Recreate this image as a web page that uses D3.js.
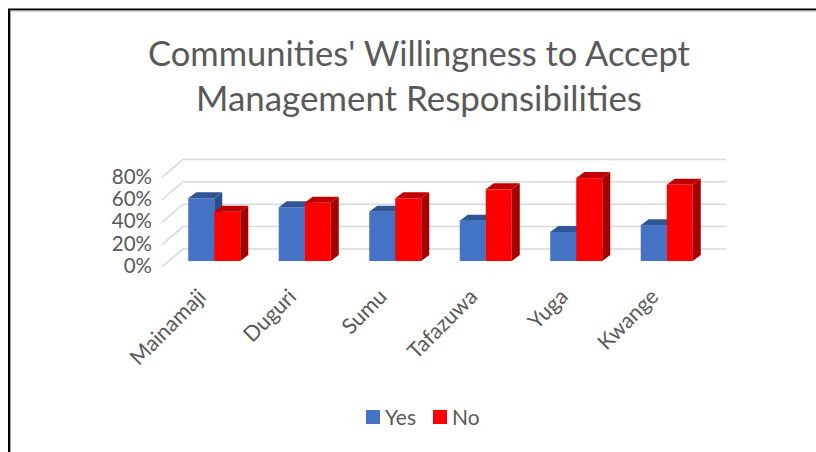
<!DOCTYPE html>
<html><head><meta charset="utf-8">
<script src="https://cdn.jsdelivr.net/npm/d3@7"></script>
<style>html,body{margin:0;padding:0;background:#fff;}svg{display:block;}</style>
</head><body>
<script>
const categories = ["Mainamaji","Duguri","Sumu","Tafazuwa","Yuga","Kwange"];
const seriesNames = ["Yes","No"];
const yesValues = [0.56,0.48,0.44,0.36,0.26,0.32];
const noValues = [0.44,0.52,0.56,0.64,0.74,0.68];
const yTicks = [0,0.2,0.4,0.6,0.8];
const titleLines = ["Communities' Willingness to Accept","Management Responsibilities"];

const W=816,H=452;
const font="Lato, 'Open Sans', sans-serif";
const textCol="#595959";
const svg=d3.select("body").append("svg").attr("width",W).attr("height",H);
svg.append("rect").attr("width",W).attr("height",H).attr("fill","#fff");

// border
svg.append("path").attr("d",`M9,452 V9.5 H816`).attr("fill","none").attr("stroke","#000").attr("stroke-width",2);
svg.append("path").attr("d",`M10.5,452 V11 H816`).attr("fill","none").attr("stroke","#aaa").attr("stroke-width",1);

// title
const titleTargets=[{cx:419,w:542,y:66},{cx:419,w:446,y:111}];
titleLines.forEach((t,i)=>{
  const el=svg.append("text").attr("x",titleTargets[i].cx).attr("y",titleTargets[i].y)
    .attr("text-anchor","middle").attr("font-family",font).attr("font-size",34)
    .attr("fill",textCol).text(t);
  const len=el.node().getComputedTextLength();
  el.attr("font-size",34*titleTargets[i].w/len);
});

// 3D geometry
const depth={dx:21,dy:-18};
const front={x0:162,x1:705};
const y=d3.scaleLinear().domain([0,0.8]).range([267,177.4]);
const x=d3.scaleBand().domain(categories).range([front.x0,front.x1]).paddingInner(0.425).paddingOuter(0.2125);
const xs=d3.scaleBand().domain(seriesNames).range([0,x.bandwidth()]);
const barOff={dx:7,dy:-6};
const barDepth={dx:8,dy:-6};

// gridlines (floor diagonal + back wall)
const g=svg.append("g");
yTicks.forEach(v=>{
  const yy=y(v);
  g.append("path")
    .attr("d",`M${front.x0},${yy} L${front.x0+depth.dx},${yy+depth.dy} H${front.x1+depth.dx}`)
    .attr("fill","none").attr("stroke","#d9d9d9").attr("stroke-width",1.5);
});

// y labels
yTicks.forEach(v=>{
  svg.append("text").attr("x",152).attr("y",y(v)-1).attr("dy","0.35em")
    .attr("text-anchor","end").attr("font-family",font).attr("font-size",20.5)
    .attr("fill",textCol).text(d3.format(".0%")(v));
});

// bars
const colors={Yes:{front:"#4472C4",top:"#2F5597",side:"#2B4F8C"},No:{front:"#FF0000",top:"#C00000",side:"#A50000"}};
const data=categories.map((c,i)=>({cat:c,vals:[{s:"Yes",v:yesValues[i]},{s:"No",v:noValues[i]}]}));
const bars=svg.append("g");
data.forEach(d=>{
  d.vals.forEach(b=>{
    const x0=x(d.cat)+xs(b.s)+barOff.dx, w=xs.bandwidth();
    const yb=y(0)+barOff.dy, yt=y(b.v)+barOff.dy;
    const c=colors[b.s];
    const gg=bars.append("g");
    gg.append("rect").attr("x",x0).attr("y",yt).attr("width",w).attr("height",yb-yt).attr("fill",c.front);
    gg.append("path").attr("d",`M${x0},${yt} L${x0+w},${yt} L${x0+w+barDepth.dx},${yt+barDepth.dy} L${x0+barDepth.dx},${yt+barDepth.dy}Z`).attr("fill",c.top);
    gg.append("path").attr("d",`M${x0+w},${yt} L${x0+w+barDepth.dx},${yt+barDepth.dy} L${x0+w+barDepth.dx},${yb+barDepth.dy} L${x0+w},${yb}Z`).attr("fill",c.side);
  });
});

// category labels
categories.forEach(c=>{
  const cx=x(c)+x.bandwidth()/2+barOff.dx-7, cy=298;
  svg.append("text").attr("transform",`translate(${cx},${cy}) rotate(-45)`)
    .attr("text-anchor","end").attr("font-family",font).attr("font-size",21.5)
    .attr("fill",textCol).text(c);
});

// legend
const leg=svg.append("g");
const legItems=[{s:"Yes",x:366},{s:"No",x:433}];
legItems.forEach(it=>{
  leg.append("rect").attr("x",it.x).attr("y",410).attr("width",14).attr("height",14).attr("fill",colors[it.s].front);
  leg.append("text").attr("x",it.x+19).attr("y",424.5).attr("font-family",font).attr("font-size",21)
    .attr("fill",textCol).text(it.s);
});
</script>
</body></html>
